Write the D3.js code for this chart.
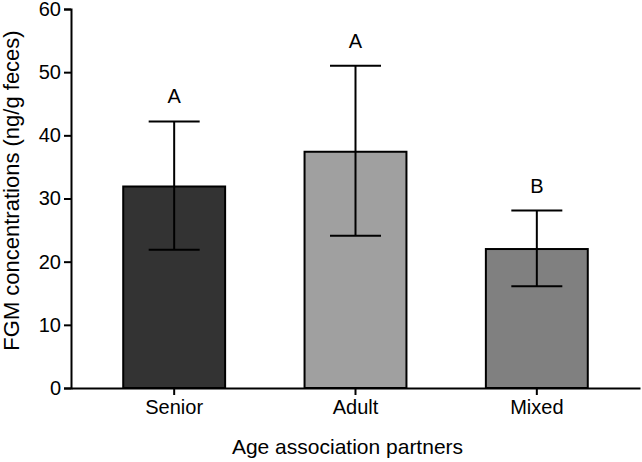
<!DOCTYPE html>
<html>
<head>
<meta charset="utf-8">
<script src="https://cdn.jsdelivr.net/npm/d3@7"></script>
<style>
  body { margin: 0; background: #fff; }
  svg { display: block; font-family: "Liberation Sans", Arial, sans-serif; }
</style>
</head>
<body>
<div id="chart"></div>
<script>
// Chart data
const groups = ["Senior", "Adult", "Mixed"];
const means = [31.9, 37.4, 22.0];
const errLow = [21.9, 24.1, 16.1];
const errHigh = [42.2, 51.0, 28.1];
const letters = ["A", "A", "B"];
const fills = ["#333333", "#a0a0a0", "#808080"];
const yTicks = [0, 10, 20, 30, 40, 50, 60];

const width = 642, height = 462;
const x0 = 71, yBase = 388, yTop = 9;

const svg = d3.select('#chart')
    .append('svg')
    .attr('width', width)
    .attr('height', height);

// Scales
const x = d3.scaleBand()
    .domain(groups)
    .range([x0, 640])
    .paddingInner(0.438)
    .paddingOuter(0.288);

const y = d3.scaleLinear()
    .domain([0, 60])
    .range([yBase, yTop]);

// Bars
svg.selectAll('.bar')
    .data(groups)
    .enter()
    .append('rect')
    .attr('class', 'bar')
    .attr('x', d => x(d))
    .attr('y', (d, i) => y(means[i]))
    .attr('width', x.bandwidth())
    .attr('height', (d, i) => yBase - y(means[i]))
    .attr('fill', (d, i) => fills[i])
    .attr('stroke', '#000')
    .attr('stroke-width', 2);

// Error bars
const capW = 51;
groups.forEach((g, i) => {
    const cx = x(g) + x.bandwidth() / 2;
    const eg = svg.append('g').attr('stroke', '#000').attr('stroke-width', 2);
    eg.append('line')
        .attr('x1', cx).attr('x2', cx)
        .attr('y1', y(errLow[i])).attr('y2', y(errHigh[i]));
    [errLow[i], errHigh[i]].forEach(v => {
        eg.append('line')
            .attr('x1', cx - capW / 2).attr('x2', cx + capW / 2)
            .attr('y1', y(v)).attr('y2', y(v));
    });
    // significance letter
    svg.append('text')
        .attr('x', cx)
        .attr('y', y(errHigh[i]) - 18)
        .attr('text-anchor', 'middle')
        .attr('font-size', 20)
        .attr('fill', '#000')
        .text(letters[i]);
});

// Y axis
const yAxis = svg.append('g')
    .attr('transform', `translate(${x0},0)`)
    .call(d3.axisLeft(y).tickValues(yTicks).tickSize(7).tickPadding(3));
yAxis.select('.domain').attr('stroke-width', 2);
yAxis.selectAll('.tick line').attr('stroke-width', 2);
yAxis.selectAll('text').attr('font-size', 20).attr('fill', '#000')
    .attr('font-family', '"Liberation Sans", Arial, sans-serif');

// X axis
const xAxis = svg.append('g')
    .attr('transform', `translate(0,${yBase})`)
    .call(d3.axisBottom(x).tickSize(7).tickSizeOuter(0).tickPadding(5));
xAxis.select('.domain').attr('stroke-width', 2);
xAxis.selectAll('.tick line').attr('stroke-width', 2);
xAxis.selectAll('text').attr('font-size', 20).attr('fill', '#000')
    .attr('font-family', '"Liberation Sans", Arial, sans-serif');

// Axis titles
svg.append('text')
    .attr('x', (x0 + 640) / 2 - 8)
    .attr('y', 454)
    .attr('text-anchor', 'middle')
    .attr('font-size', 21)
    .text('Age association partners');

svg.append('text')
    .attr('transform', `translate(19,${(28 + 353) / 2}) rotate(-90)`)
    .attr('text-anchor', 'middle')
    .attr('font-size', 22)
    .text('FGM concentrations (ng/g feces)');
</script>
</body>
</html>
